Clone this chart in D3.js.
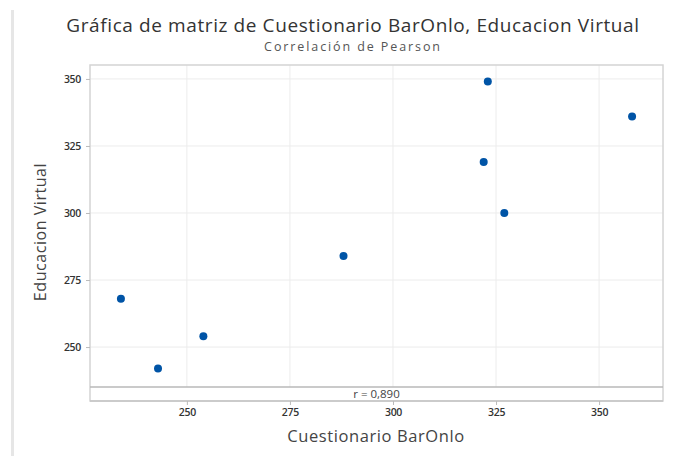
<!DOCTYPE html>
<html>
<head>
    <meta charset="utf-8">
    <title>Gráfica de matriz</title>
    <script src="https://d3js.org/d3.v7.min.js"></script>
    <style>
        body { margin: 0; background: #fff; }
        text { font-family: "Open Sans", "Noto Sans", sans-serif; }
    </style>
</head>
<body>
    <svg id="chart"></svg>

    <script>
        const barOn = [234, 243, 254, 288, 323, 322, 327, 358];
        const eduVirtual = [268, 242, 254, 284, 349, 319, 300, 336];
        const xTicks = [250, 275, 300, 325, 350];
        const yTicks = [250, 275, 300, 325, 350];
        const rLabel = "r = 0,890";

        const width = 686;
        const height = 456;
        const plot = { left: 90, right: 663, top: 65, bottom: 387 };
        const rBoxBottom = 401;

        const svg = d3.select("#chart")
            .attr("width", width)
            .attr("height", height);

        // left page edge
        svg.append("rect")
            .attr("x", 11).attr("y", 10)
            .attr("width", 3).attr("height", height - 10)
            .attr("fill", "#e6e6e6");

        const x = d3.scaleLinear()
            .domain([226.5, 365.5])
            .range([plot.left, plot.right]);

        const y = d3.scaleLinear()
            .domain([235.1, 355.2])
            .range([plot.bottom, plot.top]);

        // gridlines
        svg.append("g")
            .selectAll("line")
            .data(xTicks)
            .join("line")
            .attr("x1", d => x(d)).attr("x2", d => x(d))
            .attr("y1", plot.top).attr("y2", rBoxBottom)
            .attr("stroke", "#ececec");

        svg.append("g")
            .selectAll("line")
            .data(yTicks)
            .join("line")
            .attr("x1", plot.left).attr("x2", plot.right)
            .attr("y1", d => y(d)).attr("y2", d => y(d))
            .attr("stroke", "#ececec");

        // r box
        svg.append("rect")
            .attr("x", plot.left).attr("y", plot.bottom)
            .attr("width", plot.right - plot.left)
            .attr("height", rBoxBottom - plot.bottom)
            .attr("fill", "#fff");

        // frame
        svg.append("rect")
            .attr("x", plot.left).attr("y", plot.top)
            .attr("width", plot.right - plot.left)
            .attr("height", rBoxBottom - plot.top)
            .attr("fill", "none")
            .attr("stroke", "#d4d4d4")
            .attr("stroke-width", 1.5);

        svg.append("line")
            .attr("x1", plot.left).attr("x2", plot.right)
            .attr("y1", plot.bottom).attr("y2", plot.bottom)
            .attr("stroke", "#b8b8b8")
            .attr("stroke-width", 1.5);

        svg.append("line")
            .attr("x1", plot.left).attr("x2", plot.right)
            .attr("y1", rBoxBottom).attr("y2", rBoxBottom)
            .attr("stroke", "#c4c4c4")
            .attr("stroke-width", 1.5);

        svg.append("text")
            .attr("x", (plot.left + plot.right) / 2)
            .attr("y", rBoxBottom - 3)
            .attr("text-anchor", "middle")
            .attr("font-size", 11.5)
            .attr("fill", "#444")
            .text(rLabel);

        // axes
        const xAxis = svg.append("g")
            .attr("transform", `translate(0,${rBoxBottom})`)
            .call(d3.axisBottom(x).tickValues(xTicks).tickSize(4).tickPadding(4));

        const yAxis = svg.append("g")
            .attr("transform", `translate(${plot.left},0)`)
            .call(d3.axisLeft(y).tickValues(yTicks).tickSize(4).tickPadding(5));

        [xAxis, yAxis].forEach(a => {
            a.select(".domain").remove();
            a.selectAll(".tick line").attr("stroke", "#bbb");
            a.selectAll(".tick text")
                .attr("font-size", 10.5)
                .attr("font-weight", 600)
                .attr("letter-spacing", -0.3)
                .attr("fill", "#333")
                .style("font-family", "'Open Sans', sans-serif");
        });

        // points
        svg.append("g")
            .selectAll("circle")
            .data(barOn.map((v, i) => [v, eduVirtual[i]]))
            .join("circle")
            .attr("cx", d => x(d[0]))
            .attr("cy", d => y(d[1]))
            .attr("r", 4)
            .attr("fill", "#0054a6");

        // titles
        svg.append("text")
            .attr("x", 353).attr("y", 32)
            .attr("text-anchor", "middle")
            .attr("font-size", 19)
            .attr("letter-spacing", 0.6)
            .attr("fill", "#333")
            .text("Gráfica de matriz de Cuestionario BarOnlo, Educacion Virtual");

        svg.append("text")
            .attr("x", 353).attr("y", 51)
            .attr("text-anchor", "middle")
            .attr("font-size", 12.5)
            .attr("letter-spacing", 1.9)
            .attr("fill", "#555")
            .text("Correlación de Pearson");

        svg.append("text")
            .attr("x", 376)
            .attr("y", 442)
            .attr("text-anchor", "middle")
            .attr("font-size", 16.5)
            .attr("letter-spacing", 0.6)
            .attr("fill", "#444")
            .text("Cuestionario BarOnlo");

        svg.append("text")
            .attr("transform", `translate(46,232) rotate(-90)`)
            .attr("text-anchor", "middle")
            .attr("font-size", 16)
            .attr("letter-spacing", 0.55)
            .attr("fill", "#444")
            .text("Educacion Virtual");
    </script>
</body>
</html>
